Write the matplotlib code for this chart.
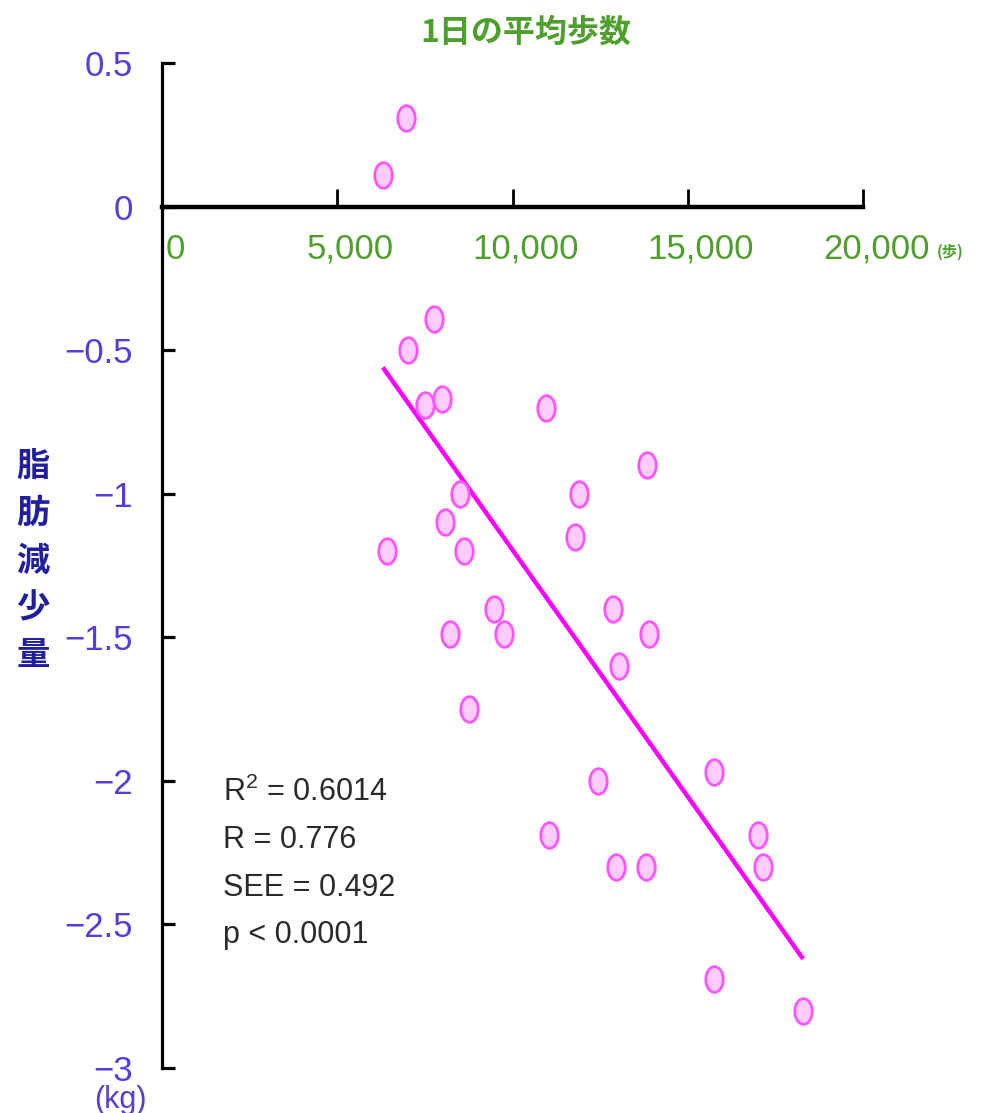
import matplotlib
matplotlib.use("Agg")
import matplotlib.pyplot as plt
import numpy as np
from matplotlib.path import Path
from matplotlib.transforms import ScaledTranslation

# 1日の平均歩数 (歩) と 脂肪減少量 (kg)
steps = [6300, 6950, 7010, 7750, 7490, 7980, 8490, 8060, 6410, 8630,
         8230, 9460, 9770, 8770, 10970, 11910, 11770, 13850, 12880, 13900,
         13050, 12450, 11030, 12960, 13820, 15760, 17010, 17150, 15760, 18290]
fat_loss = [0.11, 0.31, -0.50, -0.39, -0.69, -0.67, -1.00, -1.10, -1.20, -1.20,
            -1.49, -1.40, -1.49, -1.75, -0.70, -1.00, -1.15, -0.90, -1.40, -1.49,
            -1.60, -2.00, -2.19, -2.30, -2.30, -1.97, -2.19, -2.30, -2.69, -2.80]

# 回帰直線の端点
fit_x = [6300, 18290]
fit_y = [-0.56, -2.62]

x_ticks = [0, 5000, 10000, 15000, 20000]
x_labels = ["0", "5,000", "10,000", "15,000", "20,000"]
y_ticks = [0.5, 0, -0.5, -1, -1.5, -2, -2.5, -3]
y_labels = ["0.5", "0", "\u22120.5", "\u22121", "\u22121.5", "\u22122", "\u22122.5", "\u22123"]

stats = ["R$^{2}$ = 0.6014", "R = 0.776", "SEE = 0.492", "p < 0.0001"]

LATIN = ["Liberation Sans", "DejaVu Sans"]
CJK = ["Noto Sans CJK JP", "DejaVu Sans"]
GREEN = "#4f9f2c"
PURPLE = "#5a3ad8"
NAVY = "#1f1fa0"

plt.rcParams["mathtext.fontset"] = "custom"
plt.rcParams["mathtext.rm"] = "Liberation Sans"

fig = plt.figure(figsize=(9.86, 11.13), dpi=100)
ax = fig.add_axes([162 / 986, 45 / 1113, 701 / 986, 1005 / 1113])
ax.set_xlim(0, 20000)
ax.set_ylim(-3, 0.5)

for side in ("top", "right"):
    ax.spines[side].set_visible(False)
ax.spines["bottom"].set_position(("data", 0))
ax.spines["bottom"].set_linewidth(3.2)
ax.spines["left"].set_linewidth(2.3)

ax.set_xticks(x_ticks)
ax.set_xticklabels(x_labels, family=LATIN, fontsize=25, color=GREEN)
ax.tick_params(axis="x", direction="in", length=13, width=2, pad=19)
off = ScaledTranslation(0.13, 0, fig.dpi_scale_trans)
for lab in ax.get_xticklabels():
    lab.set_transform(lab.get_transform() + off)

ax.set_yticks(y_ticks)
ax.set_yticklabels(y_labels, family=LATIN, fontsize=25, color=PURPLE)
ax.tick_params(axis="y", direction="in", length=9, width=2.3, pad=21)

# 楕円マーカー
t = np.linspace(0, 2 * np.pi, 60)
ellipse = Path(np.column_stack([0.68 * np.cos(t), np.sin(t)]), closed=True)
ax.scatter(steps, fat_loss, s=340, marker=ellipse, facecolor="#ffccff",
           edgecolor="#ff55ff", linewidth=2, zorder=3, clip_on=False)
ax.plot(fit_x, fit_y, color="#ff00ff", lw=3.2, solid_capstyle="butt", zorder=2)

for i, s in enumerate(stats):
    ax.text(0.087, 0.2740 - i * 0.0473, s, transform=ax.transAxes,
            family=LATIN, fontsize=22, color="#2a2a2a", va="center", ha="left")

ax.text(1.124, 0.812, "(歩)", transform=ax.transAxes, family=CJK,
        fontsize=11, color=GREEN, ha="center", va="center", weight="bold")
ax.text(-0.06, -0.017, "(kg)", transform=ax.transAxes, family=LATIN,
        fontsize=22, color=PURPLE, ha="center", va="top")

fig.text(0.533, 0.971, "1日の平均歩数", family=CJK, fontsize=23,
         weight="bold", color=GREEN, ha="center", va="center")
fig.text(33 / 986, 1 - 561 / 1113, "脂\n肪\n減\n少\n量", family=CJK,
         fontsize=24, weight="bold", color=NAVY, ha="center", va="center",
         linespacing=1.55)

fig.savefig("out.png", dpi=100)
